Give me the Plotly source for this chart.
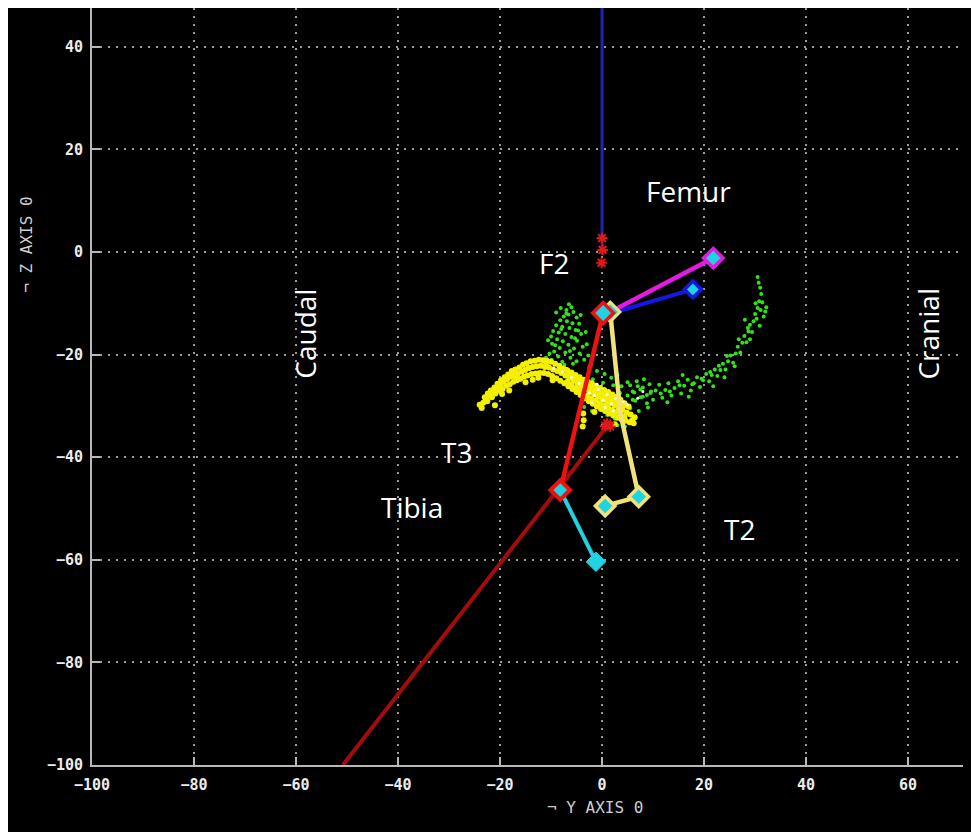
import plotly.graph_objects as go

# ---------------- data ----------------
yellow_cloud_x = [-23.0,-22.4,-21.8,-21.1,-20.5,-19.8,-19.1,-18.4,-17.7,-17.0,-16.2,-15.5,-14.8,-14.0,-13.2,-12.4,-11.6,-10.8,-10.0,-9.2,-8.4,-7.6,-6.8,-6.0,-5.2,-4.4,-3.6,-2.8,-2.0,-1.2,-0.4,0.4,1.2,2.0,2.8,3.6,4.4,5.2,
                  -22.7,-21.9,-21.3,-20.6,-19.9,-19.3,-18.6,-17.9,-17.3,-16.5,-15.8,-15.1,-14.3,-13.6,-12.8,-12.0,-11.2,-10.4,-9.6,-8.8,-8.0,-7.2,-6.4,-5.6,-4.8,-4.0,-3.2,-2.4,-1.6,-0.8,0.0,0.8,1.6,2.4,3.2,4.0,4.8,5.6,6.4,
                  -23.3,-22.5,-21.6,-20.9,-20.2,-19.5,-18.8,-18.1,-17.4,-16.7,-16.0,-15.3,-14.6,-13.8,-13.0,-12.2,-11.4,-10.6,-9.8,-9.0,-8.2,-7.4,-6.6,-5.8,-5.0,-4.2,-3.4,-2.6,-1.8,-1.0,-0.2,0.6,1.4,2.2,3.0,3.8,4.6,5.4,6.2,
                  -7.0,-6.2,-5.4,-4.6,-3.8,-3.0,-2.2,-1.4,-0.6,0.2,1.0,1.8,2.6,3.4,4.2,
                  -6.8,-6.0,-5.2,-4.4,-3.6,-2.8,-2.0,-1.2,-0.4,0.4,1.2,2.0,2.8,3.6,4.4,
                  -3.7,-3.6,-3.8,-24.0,-23.6,-21.0,-18.2,-15.0,-12.5,-9.7,-1.5,2.5,
                  -20.3,-17.5,-14.4,-11.0,-8.0,-13.6,-16.9,-19.6,-6.5,-4.8,-2.9,0.9,3.1,5.9]
yellow_cloud_y = [-28.3,-27.6,-27.0,-26.4,-25.7,-25.0,-24.4,-23.9,-23.2,-22.9,-22.5,-22.0,-21.7,-21.3,-21.2,-21.0,-21.1,-21.2,-21.4,-21.8,-22.2,-22.7,-23.1,-23.5,-24.0,-24.4,-24.9,-25.3,-25.6,-26.1,-26.5,-26.9,-27.3,-27.8,-28.2,-28.8,-29.5,-30.1,
                  -28.6,-27.9,-27.3,-26.5,-25.9,-25.3,-24.8,-24.3,-24.0,-23.7,-23.3,-23.0,-22.6,-22.4,-22.3,-22.2,-22.4,-22.5,-22.9,-23.2,-23.6,-24.1,-24.6,-25.1,-25.7,-26.2,-26.7,-27.3,-27.7,-28.2,-28.6,-29.1,-29.5,-29.9,-30.4,-30.8,-31.3,-31.7,-32.2,
                  -29.4,-29.1,-28.3,-27.6,-27.0,-26.7,-26.1,-25.8,-25.3,-25.0,-24.7,-24.3,-24.1,-23.8,-23.7,-23.6,-23.6,-23.8,-24.2,-24.6,-25.1,-25.6,-26.2,-26.7,-27.3,-27.9,-28.5,-29.1,-29.6,-30.1,-30.6,-31.0,-31.5,-31.9,-32.3,-32.6,-32.9,-33.2,-33.4,
                  -23.0,-24.0,-24.5,-25.1,-25.5,-26.0,-26.4,-26.9,-27.4,-27.8,-28.2,-28.7,-29.0,-29.6,-30.0,
                  -25.3,-25.9,-26.5,-27.0,-27.6,-28.1,-28.6,-29.0,-29.5,-30.0,-30.4,-30.8,-31.2,-31.6,-32.0,
                  -31.5,-32.8,-34.0,-29.8,-30.4,-29.9,-27.0,-25.4,-24.5,-25.0,-31.2,-33.6,
                  -26.0,-23.6,-22.6,-22.0,-22.9,-24.9,-24.4,-27.7,-24.2,-26.6,-25.9,-29.6,-28.9,-32.8]

green_cloud_x = [-6.5,-6.0,-7.0,-5.6,-6.6,-7.5,-5.0,-8.2,-6.9,-5.8,-4.5,-9.0,-7.8,-6.4,-5.2,-9.6,-8.5,-7.2,-4.1,-10.0,-6.0,-8.8,-7.7,-4.9,-9.8,-6.6,-8.3,-5.5,-9.4,-7.2,-4.4,-8.6,-6.2,-9.9,-7.8,-5.0,-3.8,-3.5,-2.7,
                 -2.5,-1.0,0.5,1.8,3.0,-1.8,0.2,2.2,3.8,5.0,-0.5,1.0,2.5,4.0,5.5,6.5,7.2,8.0,3.5,5.0,6.0,7.5,8.8,1.5,3.0,-2.0,-3.5,4.5,6.0,9.5,
                 5.5,6.3,6.8,7.5,8.0,8.8,9.3,10.0,10.5,11.2,11.8,12.4,13.0,13.6,14.2,14.9,15.5,16.1,16.8,17.4,18.0,18.6,19.2,19.8,20.4,21.0,21.5,22.1,22.6,23.2,23.7,24.2,24.7,25.2,25.7,26.2,26.6,27.1,27.5,27.9,28.3,28.7,29.0,29.4,29.7,30.0,30.3,30.5,30.8,31.1,31.2,31.0,30.7,30.5,31.4,32.2,32.0,31.7,30.9,29.0,26.0,24.0,21.8,17.0,12.8,9.0,8.2,15.8,28.0,
                 6.0,7.0,9.6,11.5,13.3,15.2,17.7,19.5,21.2,22.9,24.5,26.8,28.6,30.1,-8.0,-7.0,-9.2,-6.3,-5.3,
                 -10.6,-10.3,-9.0,-8.1,-4.2,-3.2,-3.0,-11.0,-7.4,-5.7,-4.7,-2.2]
green_cloud_y = [-10.2,-10.8,-11.3,-11.7,-12.2,-12.6,-12.8,-13.3,-13.5,-13.9,-14.0,-14.3,-14.6,-14.8,-15.2,-15.4,-15.7,-16.0,-16.0,-16.5,-16.6,-17.0,-17.4,-17.3,-17.9,-18.1,-18.7,-18.8,-19.4,-19.6,-19.8,-20.4,-20.6,-21.0,-21.4,-21.3,-18.5,-21.0,-20.2,
                 -22.5,-23.2,-23.8,-24.5,-24.0,-24.8,-25.5,-26.0,-26.2,-25.4,-30.5,-31.8,-32.5,-32.0,-30.5,-29.0,-31.0,-28.2,-27.5,-28.0,-27.2,-26.8,-29.5,-33.3,-33.8,-31.0,-30.2,-34.0,-33.0,-27.5,
                 -26.0,-27.4,-25.2,-28.3,-26.4,-27.9,-25.8,-28.8,-27.0,-25.9,-28.4,-26.9,-25.6,-28.0,-26.5,-25.2,-27.6,-26.1,-24.9,-27.0,-25.6,-24.4,-26.3,-25.0,-23.8,-25.2,-24.0,-22.9,-24.2,-23.0,-21.8,-22.9,-21.3,-20.2,-21.6,-19.8,-18.5,-19.6,-17.7,-16.4,-17.6,-15.5,-14.2,-15.6,-13.5,-12.1,-13.0,-10.9,-9.6,-11.3,-8.2,-7.0,-6.0,-4.9,-9.8,-10.8,-11.6,-12.6,-14.4,-17.0,-22.3,-24.4,-26.2,-28.2,-29.3,-30.3,-24.8,-24.0,-13.2,
                 -28.8,-26.2,-27.2,-27.6,-27.2,-26.0,-25.8,-24.7,-23.4,-22.2,-20.3,-17.0,-14.8,-10.0,-15.0,-12.0,-18.2,-19.3,-16.8,
                 -17.2,-19.8,-11.8,-10.9,-12.3,-15.6,-18.0,-20.6,-22.0,-21.8,-15.3,-22.0]

white_cloud_x = [-9.5,-7.8,-6.0,-4.5,-3.2,-2.5,-1.5,-0.8,0.2,1.0,1.8,2.6,3.4,4.2,-2.0,0.6,2.2,-3.8,5.0,8.0,7.0,-1.0]
white_cloud_y = [-22.6,-23.4,-24.4,-25.6,-26.3,-27.5,-28.0,-26.8,-28.9,-27.8,-29.6,-28.5,-30.2,-29.2,-29.4,-30.3,-31.0,-27.8,-29.8,-27.2,-28.5,-25.8]

blue_axis_x = [0.0, 0.0]
blue_axis_y = [-0.5, 60.0]

star_x = [0.0, 0.1, -0.1, 1.0, 1.6, 0.6]
star_y = [2.7, 0.4, -2.1, -33.4, -34.0, -33.9]

tibia_dark_x = [-50.8, 1.2]
tibia_dark_y = [-100.0, -33.7]

red_x = [0.2, -8.2]
red_y = [-11.9, -46.4]

cyan_x = [-8.2, -1.2]
cyan_y = [-46.4, -60.4]

magenta_x = [1.6, 21.8]
magenta_y = [-11.7, -1.2]

blue_seg_x = [1.6, 17.8]
blue_seg_y = [-12.0, -7.3]

yellow_x = [1.6, 3.6, 7.2, 0.6]
yellow_y = [-11.7, -31.5, -47.7, -49.5]

labels = ["Femur", "F2", "T3", "Tibia", "T2"]
label_x = [17.0, -9.5, -28.5, -37.3, 27.0]
label_y = [11.8, -2.2, -39.0, -49.8, -54.0]

x_ticks = [-100, -80, -60, -40, -20, 0, 20, 40, 60]
y_ticks = [-100, -80, -60, -40, -20, 0, 20, 40]

# ---------------- figure ----------------
fig = go.Figure()

def cloud(x, y, color, size=3):
    fig.add_trace(go.Scatter(x=x, y=y, mode="markers",
                             marker=dict(color=color, size=size, line=dict(width=0)),
                             hoverinfo="skip", showlegend=False))

cloud(green_cloud_x, green_cloud_y, "#33e01a", 4)
cloud(yellow_cloud_x, yellow_cloud_y, "#f4f000", 6)
cloud(white_cloud_x, white_cloud_y, "#ffffff", 3)

def seg(x, y, color, width):
    fig.add_trace(go.Scatter(x=x, y=y, mode="lines", line=dict(color=color, width=width),
                             hoverinfo="skip", showlegend=False))

seg(blue_axis_x, blue_axis_y, "#2424b4", 3)
seg(tibia_dark_x, tibia_dark_y, "#a30c0c", 4)
seg(cyan_x, cyan_y, "#1fd3e0", 4)
seg(yellow_x, yellow_y, "#f2e27a", 4.5)
seg(blue_seg_x, blue_seg_y, "#1616e6", 4)
seg(magenta_x, magenta_y, "#e21ae2", 4.5)
seg(red_x, red_y, "#ee1111", 4.5)

fig.add_trace(go.Scatter(x=star_x, y=star_y, mode="markers",
                         marker=dict(symbol="asterisk-open", size=9, color="#e01818",
                                     line=dict(color="#e01818", width=2)),
                         hoverinfo="skip", showlegend=False))

def diamond(x, y, edge, fill, size, lw):
    fig.add_trace(go.Scatter(x=[x], y=[y], mode="markers",
                             marker=dict(symbol="diamond", size=size, color=fill,
                                         line=dict(color=edge, width=lw)),
                             hoverinfo="skip", showlegend=False))

diamond(yellow_x[0], yellow_y[0], "#f2e27a", "#1fd3e0", 15, 3)
diamond(yellow_x[2], yellow_y[2], "#f2e27a", "#1fd3e0", 15, 3.5)
diamond(yellow_x[3], yellow_y[3], "#f2e27a", "#1fd3e0", 15, 3.5)
diamond(blue_seg_x[1], blue_seg_y[1], "#1616e6", "#1fd3e0", 13, 3.5)
diamond(magenta_x[1], magenta_y[1], "#e21ae2", "#1fd3e0", 15, 3.5)
diamond(cyan_x[1], cyan_y[1], "#1fd3e0", "#1fd3e0", 15, 1)
diamond(red_x[0], red_y[0], "#ee1111", "#1fd3e0", 16, 3.5)
diamond(red_x[1], red_y[1], "#ee1111", "#1fd3e0", 15, 4)

for t, x, y in zip(labels, label_x, label_y):
    fig.add_annotation(x=x, y=y, text=t, showarrow=False,
                       font=dict(family="Open Sans", size=28, color="#ffffff"))
fig.add_annotation(x=-58.3, y=-16.0, text="Caudal", textangle=-90, showarrow=False,
                   font=dict(family="Open Sans", size=28, color="#ffffff"))
fig.add_annotation(x=64.0, y=-16.0, text="Cranial", textangle=-90, showarrow=False,
                   font=dict(family="Open Sans", size=28, color="#ffffff"))

axis_font = dict(family="DejaVu Sans Mono", size=15, color="#ececec", weight="bold")
fig.add_annotation(x=-1.4, xref="x", y=-0.0568, yref="paper", text="¬ Y AXIS 0",
                   xanchor="center", yanchor="middle", showarrow=False,
                   font=dict(family="DejaVu Sans Mono", size=16, color="#cfcfcf"))
fig.add_annotation(x=-0.0733, xref="paper", y=1.4, yref="y", text="¬ Z AXIS 0", textangle=-90,
                   xanchor="center", yanchor="middle", showarrow=False,
                   font=dict(family="DejaVu Sans Mono", size=16, color="#cfcfcf"))

common = dict(showgrid=True, gridcolor="#9c9c9c", gridwidth=2, griddash="2px,6px",
              zeroline=False, showline=True, linecolor="#b8b8b8", linewidth=2,
              ticks="inside", ticklen=8, tickwidth=2, tickcolor="#b8b8b8",
              tickfont=axis_font, mirror=False)

fig.update_xaxes(range=[-100, 73.9], tickvals=x_ticks, ticklabelstandoff=5, **common)
fig.update_yaxes(range=[-100, 47.55], tickvals=y_ticks, ticklabelstandoff=4, **common)

fig.update_layout(width=971, height=832, paper_bgcolor="#000000", plot_bgcolor="#000000",
                  margin=dict(l=84, r=0, t=0, b=75), showlegend=False)

page_style = ("document.documentElement.style.overflow='hidden';"
              "document.documentElement.style.background="
              "'linear-gradient(#fff,#fff) 0 0/100% 8px no-repeat,"
              " linear-gradient(#fff,#fff) 0 0/8px 100% no-repeat, #000';")

fig.write_html("out.html", post_script=page_style)
